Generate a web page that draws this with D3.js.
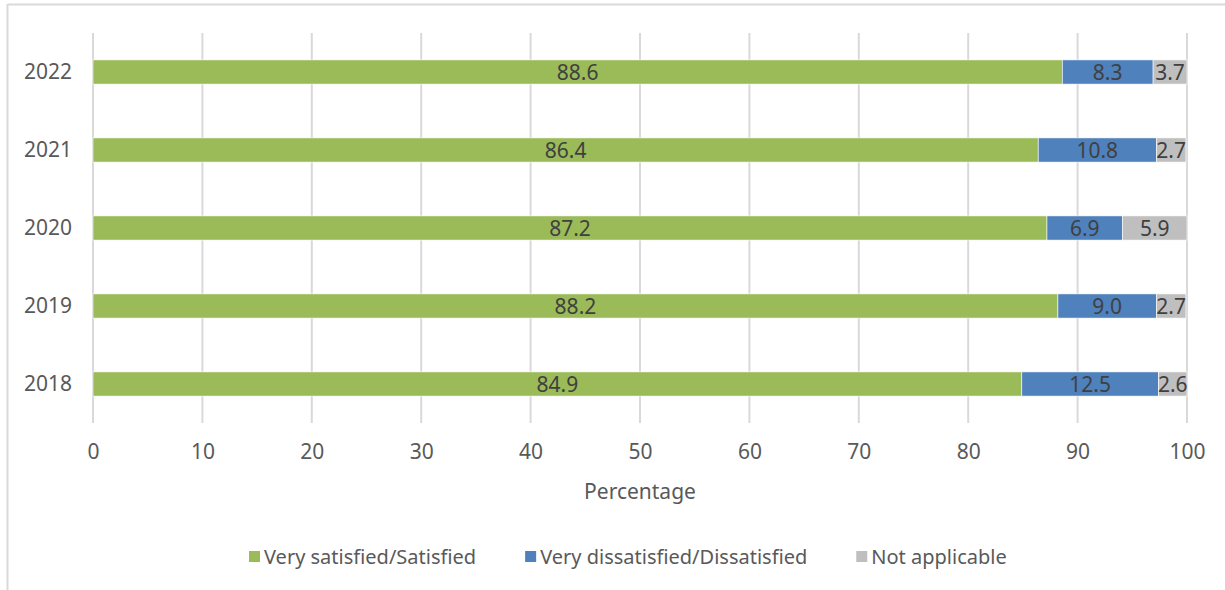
<!DOCTYPE html>
<html>
<head>
<meta charset="utf-8">
<script src="https://cdn.jsdelivr.net/npm/d3@7/dist/d3.min.js"></script>
<style>
  html, body { margin: 0; padding: 0; background: #fff; }
  svg { display: block; font-family: "Noto Sans", "Open Sans", sans-serif; }
</style>
</head>
<body>
<svg id="chart" width="1225" height="590"></svg>
<script>
const years = ["2022", "2021", "2020", "2019", "2018"];
const seriesNames = ["Very satisfied/Satisfied", "Very dissatisfied/Dissatisfied", "Not applicable"];
const satisfied = [88.6, 86.4, 87.2, 88.2, 84.9];
const dissatisfied = [8.3, 10.8, 6.9, 9.0, 12.5];
const notApplicable = [3.7, 2.7, 5.9, 2.7, 2.6];
const xTicks = [0, 10, 20, 30, 40, 50, 60, 70, 80, 90, 100];
const colors = ["#9BBB59", "#4F81BD", "#BFBFBF"];

const FONT = '"Noto Sans", "Open Sans", sans-serif';
const svg = d3.select("#chart");
const W = 1225, H = 590;

// chart border (top and left, as in reference)
svg.append("line").attr("x1", 7.5).attr("x2", W).attr("y1", 4.5).attr("y2", 4.5)
  .attr("stroke", "#d9d9d9").attr("stroke-width", 2);
svg.append("line").attr("x1", 7.5).attr("x2", 7.5).attr("y1", 4).attr("y2", H)
  .attr("stroke", "#d9d9d9").attr("stroke-width", 2);

const plot = { left: 93, right: 1187, top: 33, bottom: 423 };
const x = d3.scaleLinear().domain([0, 100]).range([plot.left, plot.right]);
const y = d3.scaleBand().domain(years).range([plot.top, plot.bottom]).paddingInner(0.69).paddingOuter(0.345);

// gridlines
svg.append("g").selectAll("line").data(xTicks).join("line")
  .attr("x1", d => x(d)).attr("x2", d => x(d))
  .attr("y1", plot.top).attr("y2", plot.bottom)
  .attr("stroke", "#d9d9d9").attr("stroke-width", 2);

// data
const seriesArrays = [satisfied, dissatisfied, notApplicable];
const table = years.map((yr, i) => {
  const o = { year: yr };
  seriesNames.forEach((s, k) => o[s] = seriesArrays[k][i]);
  return o;
});
const stacked = d3.stack().keys(seriesNames)(table);

const g = svg.append("g");
stacked.forEach((layer, k) => {
  const lg = g.append("g");
  layer.forEach(seg => {
    const x0 = Math.min(seg[0], 100), x1 = Math.min(seg[1], 100);
    const yr = seg.data.year;
    lg.append("rect")
      .attr("x", x(x0)).attr("y", y(yr))
      .attr("width", Math.max(0, x(x1) - x(x0))).attr("height", y.bandwidth())
      .attr("fill", colors[k]).attr("stroke", "#ffffff").attr("stroke-width", 0.6);
    lg.append("text")
      .attr("x", (x(x0) + x(x1)) / 2).attr("y", y(yr) + y.bandwidth() / 2)
      .attr("text-anchor", "middle").attr("dy", "0.36em")
      .attr("font-size", 21).attr("fill", "#404040")
      .text(d3.format(".1f")(seriesArrays[k][years.indexOf(yr)]));
  });
});

// y axis labels
const yAxis = d3.axisLeft(y).tickSize(0).tickPadding(21);
const ya = svg.append("g").attr("transform", `translate(${plot.left},0)`).call(yAxis)
  .attr("font-family", FONT).attr("font-size", 21);
ya.select(".domain").remove();
ya.selectAll("text").attr("fill", "#595959");

// x axis labels
const xAxis = d3.axisBottom(x).tickValues(xTicks).tickSize(0).tickPadding(21);
const xa = svg.append("g").attr("transform", `translate(0,${plot.bottom})`).call(xAxis)
  .attr("font-family", FONT).attr("font-size", 21);
xa.select(".domain").remove();
xa.selectAll("text").attr("fill", "#595959");

// axis title
svg.append("text").attr("x", (plot.left + plot.right) / 2).attr("y", 499)
  .attr("text-anchor", "middle").attr("font-size", 21).attr("fill", "#595959")
  .text("Percentage");

// legend
const legend = svg.append("g");
let lx = 249;
seriesNames.forEach((name, k) => {
  legend.append("rect").attr("x", lx).attr("y", 551).attr("width", 11).attr("height", 11)
    .attr("fill", colors[k]);
  const t = legend.append("text").attr("x", lx + 15).attr("y", 557).attr("dy", "0.36em")
    .attr("font-size", 20).attr("fill", "#595959").text(name);
  lx += 15 + t.node().getComputedTextLength() + 49;
});
</script>
</body>
</html>
